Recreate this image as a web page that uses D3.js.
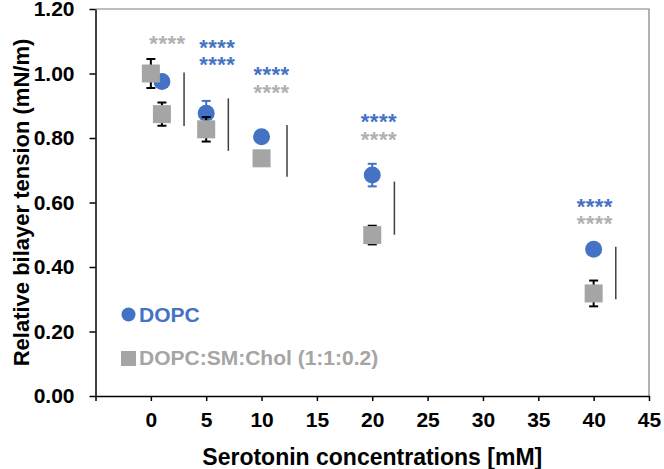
<!DOCTYPE html>
<html>
<head>
<meta charset="utf-8">
<script src="https://cdn.jsdelivr.net/npm/d3@7"></script>
<style>
  body { margin: 0; background: #fff; }
  text { font-family: "Liberation Sans", Arial, sans-serif; font-weight: bold; }
</style>
</head>
<body>
<div id="chart"></div>
<script>
// Data
var xTicks = [0, 5, 10, 15, 20, 25, 30, 35, 40, 45];
var yTicks = [0, 0.2, 0.4, 0.6, 0.8, 1.0, 1.2];

// DOPC (blue circles)
var dopcX = [1, 5, 10, 20, 40];
var dopcY = [0.975, 0.877, 0.804, 0.685, 0.455];
var dopcErr = [0.0, 0.038, 0.0, 0.035, 0.0];

// DOPC:SM:Chol (grey squares)
var smX = [0, 1, 5, 10, 20, 40];
var smY = [1.0, 0.874, 0.827, 0.737, 0.499, 0.318];
var smErr = [0.045, 0.036, 0.038, 0.0, 0.029, 0.04];

// significance bars (x, top, bottom)
var barX = [3, 7, 12.3, 22, 42];
var barTop = [1.003, 0.923, 0.84, 0.665, 0.463];
var barBottom = [0.837, 0.76, 0.68, 0.5, 0.3];

// star annotations
var starX = [1.5, 6, 6, 10.9, 10.9, 20.6, 20.6, 40.1, 40.1];
var starY = [1.106, 1.094, 1.042, 1.011, 0.954, 0.864, 0.809, 0.602, 0.548];
var starSeries = ["sm", "dopc", "dopc", "dopc", "sm", "dopc", "sm", "dopc", "sm"];

var blue = "#4472c4";
var grey = "#a5a5a5";

var svgWidth = 664;
var svgHeight = 469;
var margin = { top: 9, right: 15, bottom: 73, left: 95.5 };
var width = svgWidth - margin.left - margin.right;
var height = svgHeight - margin.top - margin.bottom;

var svg = d3.select("#chart").append("svg")
  .attr("width", svgWidth)
  .attr("height", svgHeight);

var chartGroup = svg.append("g")
  .attr("transform", `translate(${margin.left}, ${margin.top})`);

var xScale = d3.scaleLinear().domain([-5, 45]).range([0, width]);
var yScale = d3.scaleLinear().domain([0, 1.2]).range([height, 0]);

// frame top/right
chartGroup.append("path")
  .attr("d", `M0,0H${width}V${height}`)
  .attr("fill", "none")
  .attr("stroke", "#7f7f7f")
  .attr("stroke-width", 1.2);

// axes
var bottomAxis = d3.axisBottom(xScale)
  .tickValues([-5].concat(xTicks))
  .tickSize(5)
  .tickSizeOuter(0)
  .tickFormat(d => d < 0 ? "" : d);
var leftAxis = d3.axisLeft(yScale)
  .tickValues(yTicks)
  .tickSize(6)
  .tickSizeOuter(0)
  .tickFormat(d3.format(".2f"));

var xAxis = chartGroup.append("g")
  .attr("transform", `translate(0, ${height})`)
  .call(bottomAxis);
var yAxis = chartGroup.append("g").call(leftAxis);

[xAxis, yAxis].forEach(function(ax) {
  ax.selectAll("path, line").attr("stroke", "#000").attr("stroke-width", 1.5);
  ax.selectAll("text")
    .attr("fill", "#000")
    .style("font-size", "21px")
    .style("font-family", "'Liberation Sans', Arial, sans-serif")
    .style("font-weight", "bold");
});
xAxis.selectAll("text").attr("y", 16);
yAxis.selectAll("text").attr("x", -21);

// significance bars
chartGroup.selectAll(".sig")
  .data(barX)
  .enter()
  .append("line")
  .attr("x1", d => xScale(d))
  .attr("x2", d => xScale(d))
  .attr("y1", (d, i) => yScale(barTop[i]))
  .attr("y2", (d, i) => yScale(barBottom[i]))
  .attr("stroke", "#404040")
  .attr("stroke-width", 1.5);

// error bars helper
function errorBars(xs, ys, errs, color) {
  var g = chartGroup.append("g");
  xs.forEach(function(x, i) {
    if (!errs[i]) return;
    var cx = xScale(x);
    var y1 = yScale(ys[i] + errs[i]);
    var y2 = yScale(ys[i] - errs[i]);
    g.append("line").attr("x1", cx).attr("x2", cx).attr("y1", y1).attr("y2", y2)
      .attr("stroke", color).attr("stroke-width", 2);
    [y1, y2].forEach(function(y) {
      g.append("line").attr("x1", cx - 4.5).attr("x2", cx + 4.5).attr("y1", y).attr("y2", y)
        .attr("stroke", color).attr("stroke-width", 2);
    });
  });
}

// DOPC circles
errorBars(dopcX, dopcY, dopcErr, blue);
chartGroup.selectAll(".dopc")
  .data(dopcX)
  .enter()
  .append("circle")
  .attr("cx", d => xScale(d))
  .attr("cy", (d, i) => yScale(dopcY[i]))
  .attr("r", 8.5)
  .attr("fill", blue);

// SM squares over their error bars
errorBars(smX, smY, smErr, "#000");
chartGroup.selectAll(".sm")
  .data(smX)
  .enter()
  .append("rect")
  .attr("x", d => xScale(d) - 9)
  .attr("y", (d, i) => yScale(smY[i]) - 9)
  .attr("width", 18)
  .attr("height", 18)
  .attr("fill", grey);

// stars
chartGroup.selectAll(".stars")
  .data(starX)
  .enter()
  .append("text")
  .attr("x", d => xScale(d))
  .attr("y", (d, i) => yScale(starY[i]) + 12)
  .attr("text-anchor", "middle")
  .style("font-size", "22px")
  .style("letter-spacing", "0.5px")
  .attr("fill", (d, i) => starSeries[i] === "dopc" ? blue : "#b0b0b0")
  .text("****");

// legend
svg.append("circle").attr("cx", 128.5).attr("cy", 314.5).attr("r", 7).attr("fill", blue);
svg.append("text").attr("x", 139).attr("y", 322).attr("fill", blue)
  .style("font-size", "21px").text("DOPC");
svg.append("rect").attr("x", 121).attr("y", 351).attr("width", 15).attr("height", 15).attr("fill", grey);
svg.append("text").attr("x", 139).attr("y", 365).attr("fill", grey)
  .style("font-size", "21px").text("DOPC:SM:Chol (1:1:0.2)");

// axis titles
svg.append("text")
  .attr("x", margin.left + width / 2)
  .attr("y", 465)
  .attr("text-anchor", "middle")
  .style("font-size", "23px")
  .text("Serotonin concentrations [mM]");

svg.append("text")
  .attr("transform", `translate(29, ${margin.top + height / 2}) rotate(-90)`)
  .attr("text-anchor", "middle")
  .style("font-size", "22px")
  .text("Relative bilayer tension (mN/m)");
</script>
</body>
</html>
